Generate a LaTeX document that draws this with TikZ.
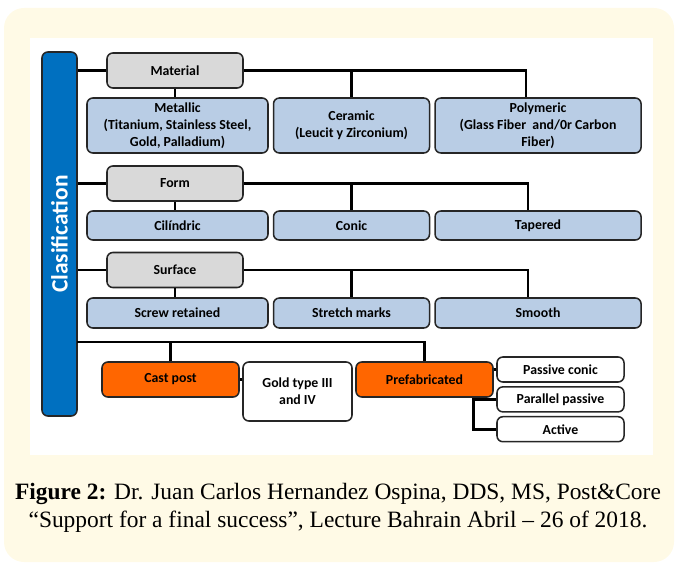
\documentclass[tikz,border=0pt]{standalone}
\usepackage{fontspec}
\setmainfont{Liberation Serif}
\newfontfamily\boxfont{Carlito}
\usepackage{xcolor}
\usetikzlibrary{positioning}
\definecolor{cream}{HTML}{FFFAE6}
\definecolor{barblue}{HTML}{0070C0}
\definecolor{catgray}{HTML}{D9D9D9}
\definecolor{optblue}{HTML}{B9CDE5}
\definecolor{postorange}{HTML}{FF6600}

\begin{document}
\begin{tikzpicture}[
  x = 0.03cm, y = -0.03cm,
  base/.style  = {draw=black!85, line width=1.3pt, rounded corners=5pt,
                  align=center, inner sep=1pt,
                  font=\boxfont\bfseries\fontsize{11.8}{14.5}\selectfont},
  clsbar/.style= {base, fill=barblue, text=white, rotate=90,
                  minimum width=10.92cm, minimum height=1.05cm,
                  font=\boxfont\bfseries\fontsize{20}{22}\selectfont},
  cat/.style   = {base, fill=catgray, minimum width=4.08cm, minimum height=1.05cm},
  opt/.style   = {base, fill=optblue},
  post/.style  = {base, fill=postorange, minimum width=4.11cm, minimum height=1.05cm},
  sub/.style   = {base, fill=white, minimum width=3.81cm, minimum height=0.75cm},
  link/.style  = {line width=2.4pt, black},
  caption/.style = {align=center, font=\fontsize{20}{24.5}\selectfont},
]
  \useasboundingbox (0,0) rectangle (677,567);
  \fill[cream, rounded corners=0.6cm] (4,8) rectangle (674,562);
  \fill[white] (30,38) rectangle (653,455);

  \node[clsbar] (bar) at (59.5,234) {Clasification};

  % material
  \node[cat] (mat) at (175,70.5) {Material};
  \node[opt, minimum width=5.43cm, minimum height=1.65cm] (metal) at (177.5,125.5)
    {Metallic\\(Titanium, Stainless Steel,\\Gold, Palladium)};
  \node[opt, minimum width=4.68cm, minimum height=1.65cm, right=0.12cm of metal] (cer)
    {Ceramic\\(Leucit y Zirconium)};
  \node[opt, minimum width=6.18cm, minimum height=1.65cm, right=0.12cm of cer] (poly)
    {Polymeric\\(Glass Fiber\ \ and/0r Carbon\\Fiber)};
  \draw[link] (bar.south |- mat) -- (mat.west);
  \draw[link] (mat.east) -| ([xshift=-0.36cm]poly.north);
  \draw[link] (cer.north |- mat) -- (cer.north);
  \draw[link] (mat.south) -- (mat.south |- metal.north);

  % form
  \node[cat] (form) at (175,183.5) {Form};
  \node[opt, minimum width=5.43cm, minimum height=0.87cm] (cyl) at (177.5,225.5) {Cilíndric};
  \node[opt, minimum width=4.68cm, minimum height=0.87cm, right=0.12cm of cyl] (con) {Conic};
  \node[opt, minimum width=6.18cm, minimum height=0.87cm, right=0.12cm of con] (tap) {Tapered};
  \draw[link] (bar.south |- form) -- (form.west);
  \draw[link] (form.east) -| ([xshift=-0.3cm]tap.north);
  \draw[link] (con.north |- form) -- (con.north);
  \draw[link] (form.south) -- (form.south |- cyl.north);

  % surface
  \node[cat] (surf) at (175,270) {Surface};
  \node[opt, minimum width=5.43cm, minimum height=0.9cm] (screw) at (177.5,313) {Screw retained};
  \node[opt, minimum width=4.68cm, minimum height=0.9cm, right=0.12cm of screw] (stretch) {Stretch marks};
  \node[opt, minimum width=6.18cm, minimum height=0.9cm, right=0.12cm of stretch] (smooth) {Smooth};
  \draw[link] (bar.south |- surf) -- (surf.west);
  \draw[link] (surf.east) -| ([xshift=-0.3cm]smooth.north);
  \draw[link] (stretch.north |- surf) -- (stretch.north);
  \draw[link] (surf.south) -- (surf.south |- screw.north);

  % posts
  \coordinate (jct) at (77,342);
  \node[post] (cast) at (170.5,379.5) {Cast post};
  \node[base, fill=white, minimum width=3.27cm, minimum height=1.77cm] (gold) at (297.5,391.5)
    {Gold type III\\and IV};
  \node[post] (pref) at (424.5,379.5) {Prefabricated};
  \node[sub] (pcon) at (560.5,369.5) {Passive conic};
  \node[sub, below=0.1cm of pcon] (ppar) {Parallel passive};
  \node[sub, below=0.1cm of ppar] (act) {Active};
  \draw[link] (jct) -| (pref.north);
  \draw[link] (cast.north) -- (cast.north |- jct);
  \draw[link] (cast.east) -- (cast.east -| gold.west);
  \draw[link] (pcon.west) -- (pcon.west -| pref.east);
  \coordinate (drop) at ([xshift=-0.6cm]pref.south east);
  \draw[link] (drop) |- (act.west);
  \draw[link] (drop |- ppar.west) -- (ppar.west);

  \node[caption] (cap) at (338,508)
    {\textbf{Figure 2:} Dr. Juan Carlos Hernandez Ospina, DDS, MS, Post\&Core\\
     “Support for a final success”, Lecture Bahrain Abril -- 26 of 2018.};
\end{tikzpicture}
\end{document}
